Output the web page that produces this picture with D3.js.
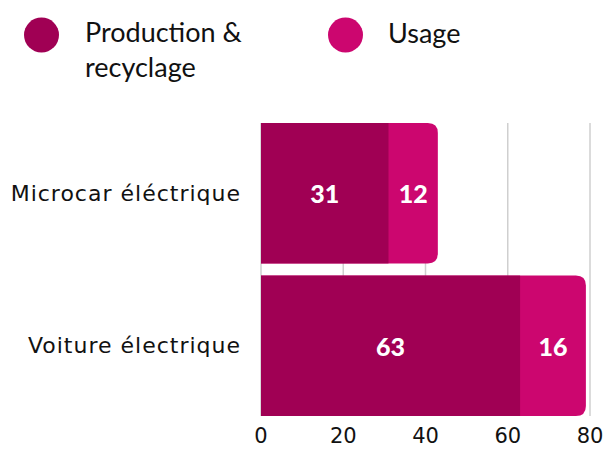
<!DOCTYPE html>
<html>
<head>
<meta charset="utf-8">
<script src="https://cdn.jsdelivr.net/npm/d3@7"></script>
<style>
  body { margin: 0; background: #fff; }
  svg { display: block; }
</style>
</head>
<body>
<div id="chart"></div>
<script>
// data
var categories = ["Microcar éléctrique", "Voiture électrique"]
var seriesNames = ["Production & recyclage", "Usage"]
var production = [31, 63]
var usage = [12, 16]
var ticks = [0, 20, 40, 60, 80]
var colors = ["#a00054", "#cc066f"]

var svgSize = { width: 607, height: 449 }

var svg = d3.select("#chart").append("svg")
    .attr("width", svgSize.width)
    .attr("height", svgSize.height)

var xScale = d3.scaleLinear().domain([0, 80]).range([261, 590])
var yScale = d3.scaleBand().domain(categories).range([123, 416]).paddingInner(0.08)

// gridlines
svg.append("g").selectAll("line").data(ticks)
    .enter().append("line")
    .attr("x1", d => xScale(d)).attr("x2", d => xScale(d))
    .attr("y1", 123).attr("y2", 416)
    .attr("stroke", "#cfcfcf")
    .attr("stroke-width", 1.5)

var rows = categories.map((c, i) => ({ cat: c, prod: production[i], use: usage[i] }))

var r = 10
function roundedRight(x0, x1, y, h) {
    return `M${x0},${y}H${x1 - r}Q${x1},${y} ${x1},${y + r}V${y + h - r}Q${x1},${y + h} ${x1 - r},${y + h}H${x0}Z`
}

// usage drawn as the full stack (rounded end), production laid on top -> no seam
var bars = svg.append("g")
bars.selectAll("path").data(rows)
    .enter().append("path")
    .attr("d", d => roundedRight(xScale(0), xScale(d.prod + d.use), yScale(d.cat), yScale.bandwidth()))
    .attr("fill", colors[1])

bars.selectAll("rect").data(rows)
    .enter().append("rect")
    .attr("x", xScale(0))
    .attr("y", d => yScale(d.cat))
    .attr("width", d => xScale(d.prod) - xScale(0))
    .attr("height", yScale.bandwidth())
    .attr("fill", colors[0])

var labelFont = "DejaVu Sans"

// value labels
var vals = svg.append("g")
    .attr("font-family", "Lato")
    .attr("font-weight", 900)
    .attr("font-size", 25)
    .attr("fill", "#fff")
    .attr("text-anchor", "middle")
    .attr("dominant-baseline", "central")
rows.forEach(d => {
    var cy = yScale(d.cat) + yScale.bandwidth() / 2
    vals.append("text").attr("x", (xScale(0) + xScale(d.prod)) / 2).attr("y", cy).text(d.prod)
    vals.append("text").attr("x", (xScale(d.prod) + xScale(d.prod + d.use)) / 2).attr("y", cy).text(d.use)
})

// category axis labels
svg.append("g").selectAll("text").data(categories)
    .enter().append("text")
    .attr("x", 241)
    .attr("y", d => yScale(d) + yScale.bandwidth() / 2)
    .attr("text-anchor", "end")
    .attr("dominant-baseline", "central")
    .attr("font-family", labelFont)
    .attr("font-size", 22)
    .attr("letter-spacing", 1)
    .attr("fill", "#111")
    .text(d => d)

// x tick labels
svg.append("g").selectAll("text").data(ticks)
    .enter().append("text")
    .attr("x", d => xScale(d))
    .attr("y", 443)
    .attr("text-anchor", "middle")
    .attr("font-family", labelFont)
    .attr("font-size", 21)
    .attr("fill", "#111")
    .text(d => d)

// legend
var legend = svg.append("g")
    .attr("font-family", "Lato, sans-serif")
    .attr("font-size", 27)
    .attr("fill", "#111")
legend.append("circle").attr("cx", 41.5).attr("cy", 35).attr("r", 17.5).attr("fill", colors[0])
legend.append("text").attr("x", 85).attr("y", 42).text("Production &")
legend.append("text").attr("x", 85).attr("y", 77).text("recyclage")
legend.append("circle").attr("cx", 345.5).attr("cy", 35).attr("r", 17.5).attr("fill", colors[1])
legend.append("text").attr("x", 388).attr("y", 43).text(seriesNames[1])
</script>
</body>
</html>
